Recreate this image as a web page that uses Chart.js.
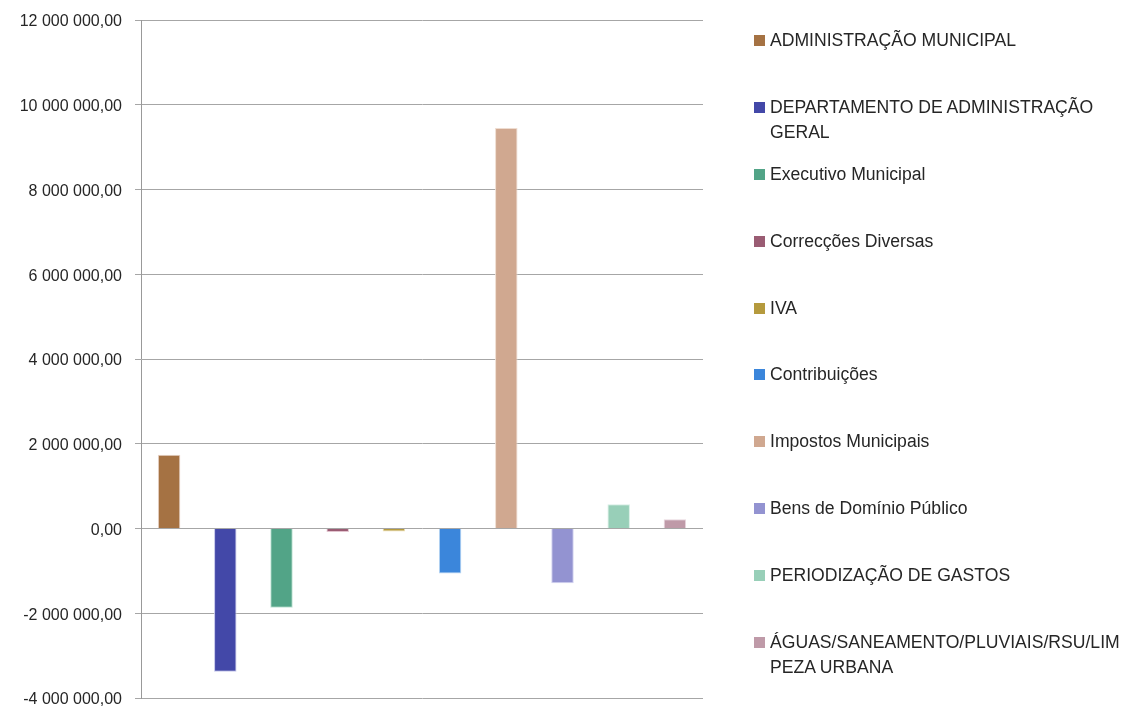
<!DOCTYPE html>
<html>
<head>
<meta charset="utf-8">
<script src="https://cdn.jsdelivr.net/npm/chart.js@4.4.0/dist/chart.umd.min.js"></script>
<style>
  html, body { margin:0; padding:0; background:#fff; }
  #wrap { position:relative; width:1126px; height:707px; }
  #c { position:absolute; left:0; top:0; }
  #legend { position:absolute; left:754px; top:28px; margin:0; padding:0; list-style:none;
            font-family:"Liberation Sans", Arial, sans-serif; font-size:17.6px; color:#262626; }
  #legend li { position:relative; height:66.9px; padding-left:16px; line-height:25px; white-space:pre-line; }
  #legend li span.box { position:absolute; left:0; top:7px; width:11px; height:11px; }
</style>
</head>
<body>
<div id="wrap">
  <canvas id="c" width="1126" height="707"></canvas>
  <ul id="legend"></ul>
</div>
<script>
const categories = [
  "ADMINISTRAÇÃO MUNICIPAL",
  "DEPARTAMENTO DE ADMINISTRAÇÃO\nGERAL",
  "Executivo Municipal",
  "Correcções Diversas",
  "IVA",
  "Contribuições",
  "Impostos Municipais",
  "Bens de Domínio Público",
  "PERIODIZAÇÃO DE GASTOS",
  "ÁGUAS/SANEAMENTO/PLUVIAIS/RSU/LIM\nPEZA URBANA"
];
const values = [1740000, -3380000, -1870000, -80000, -70000, -1060000, 9450000, -1290000, 570000, 220000];
const colors = ["#A57243", "#4348A8", "#52A487", "#9A5C73", "#B59A3D", "#3B86DB", "#D0A890", "#9393D1", "#98CFB8", "#BF9AA8"];
const borderColors = ["#E8D3C8", "#C4C6EA", "#BFE3D4", "#E2C4CF", "#EDE0B4", "#B9D6F4", "#EEDCD0", "#D2D2F0", "#D6EEE4", "#E8D6DD"];
const yTicks = { min: -4000000, max: 12000000, step: 2000000 };

function fmt(v) {
  const neg = v < 0;
  const s = Math.abs(Math.round(v)).toString().replace(/\B(?=(\d{3})+(?!\d))/g, " ");
  return (neg ? "-" : "") + s + ",00";
}

const datasets = categories.map((name, i) => ({
  label: name,
  data: [values[i]],
  backgroundColor: colors[i],
  borderColor: borderColors[i],
  borderWidth: 1,
  categoryPercentage: 1.0,
  barPercentage: 0.4
}));

const chart = new Chart(document.getElementById("c"), {
  type: "bar",
  data: { labels: [""], datasets },
  options: {
    responsive: false,
    animation: false,
    layout: { padding: { left: 0, top: 20, right: 423, bottom: 9 } },
    plugins: { legend: { display: false }, tooltip: { enabled: false } },
    scales: {
      x: { display: false },
      y: {
        min: yTicks.min, max: yTicks.max,
        afterFit: (s) => { s.width = 141; s.paddingTop = 0; s.paddingBottom = 0; },
        border: { display: true, color: "#999999", width: 1 },
        grid: { color: "#A6A6A6", lineWidth: 1, tickLength: 6, drawTicks: true },
        ticks: {
          stepSize: yTicks.step, padding: 13, color: "#262626", labelOffset: 2,
          font: { family: "'Liberation Sans', Arial, sans-serif", size: 16 },
          callback: (v) => fmt(v)
        }
      }
    }
  }
});

const ul = document.getElementById("legend");
chart.data.datasets.forEach((d) => {
  const li = document.createElement("li");
  const box = document.createElement("span");
  box.className = "box";
  box.style.background = d.backgroundColor;
  li.appendChild(box);
  li.appendChild(document.createTextNode(d.label));
  ul.appendChild(li);
});
</script>
</body>
</html>
